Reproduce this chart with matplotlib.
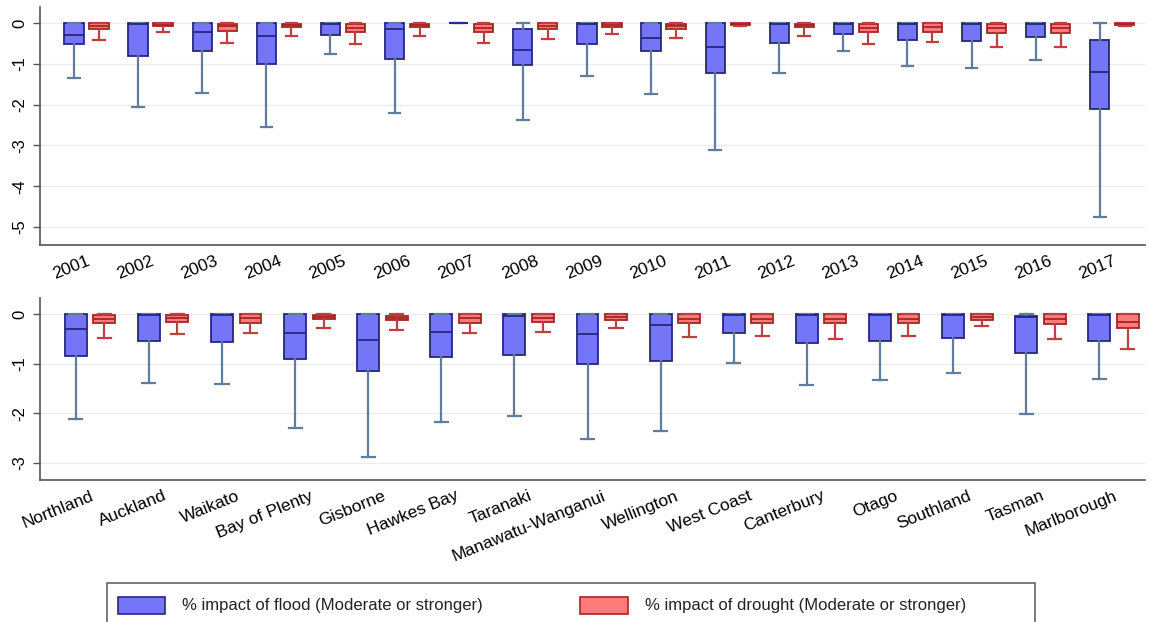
import numpy as np
import matplotlib
matplotlib.use('Agg')
import matplotlib.pyplot as plt
from matplotlib.patches import Rectangle

plt.rcParams['font.family'] = ['Liberation Sans', 'DejaVu Sans']
plt.rcParams['axes.unicode_minus'] = False

# top panel: by year
years = [str(y) for y in range(2001, 2018)]
flood_yr_hi = [0, 0, 0, 0, 0, 0, 0, 0, 0, 0, 0, 0, 0, 0, 0, 0, 0]
flood_yr_q3 = [0, 0, 0, 0, 0, 0, 0, -0.15, 0, 0, 0, 0, 0, 0, 0, 0, -0.42]
flood_yr_med = [-0.29, -0.03, -0.23, -0.31, -0.03, -0.15, 0, -0.66, -0.02, -0.38, -0.58, -0.02, -0.02,
                -0.02, -0.02, -0.02, -1.19]
flood_yr_q1 = [-0.52, -0.82, -0.69, -1.01, -0.29, -0.88, 0, -1.03, -0.51, -0.70, -1.23, -0.50, -0.28,
               -0.42, -0.44, -0.35, -2.12]
flood_yr_lo = [-1.34, -2.07, -1.71, -2.56, -0.76, -2.20, 0, -2.39, -1.30, -1.75, -3.11, -1.22, -0.68,
               -1.05, -1.11, -0.92, -4.76]

drought_yr_hi = [0] * 17
drought_yr_q3 = [-0.01, 0, -0.02, -0.02, -0.02, -0.02, -0.02, -0.01, -0.01, -0.02, 0, -0.02, -0.02,
                 -0.01, -0.02, -0.02, -0.01]
drought_yr_med = [-0.07, -0.04, -0.07, -0.05, -0.13, -0.06, -0.13, -0.07, -0.05, -0.07, -0.03, -0.05,
                  -0.13, -0.10, -0.13, -0.13, -0.03]
drought_yr_q1 = [-0.15, -0.08, -0.19, -0.10, -0.23, -0.10, -0.23, -0.16, -0.09, -0.16, -0.05, -0.10,
                 -0.23, -0.23, -0.25, -0.25, -0.06]
drought_yr_lo = [-0.42, -0.23, -0.48, -0.31, -0.52, -0.31, -0.50, -0.39, -0.27, -0.36, -0.07, -0.31,
                 -0.51, -0.46, -0.58, -0.58, -0.08]

# bottom panel: by region
regions = ['Northland', 'Auckland', 'Waikato', 'Bay of Plenty', 'Gisborne', 'Hawkes Bay', 'Taranaki',
           'Manawatu-Wanganui', 'Wellington', 'West Coast', 'Canterbury', 'Otago', 'Southland',
           'Tasman', 'Marlborough']
flood_rg_hi = [0] * 15
flood_rg_q3 = [0, 0, 0, 0, 0, 0, 0, 0, 0, 0, 0, 0, 0, -0.03, 0]
flood_rg_med = [-0.30, -0.02, -0.02, -0.37, -0.52, -0.35, -0.03, -0.40, -0.22, -0.02, -0.02, -0.02,
                -0.02, -0.05, -0.02]
flood_rg_q1 = [-0.84, -0.54, -0.55, -0.91, -1.15, -0.86, -0.82, -1.01, -0.94, -0.38, -0.57, -0.53,
               -0.47, -0.79, -0.53]
flood_rg_lo = [-2.12, -1.38, -1.40, -2.29, -2.88, -2.17, -2.06, -2.53, -2.36, -0.99, -1.43, -1.33,
               -1.19, -2.02, -1.31]

drought_rg_hi = [0] * 15
drought_rg_q3 = [-0.01, -0.01, 0, -0.01, -0.03, 0, 0, 0, 0, 0, 0, 0, 0, 0, 0]
drought_rg_med = [-0.10, -0.08, -0.08, -0.05, -0.07, -0.08, -0.08, -0.05, -0.10, -0.10, -0.10, -0.10,
                  -0.05, -0.10, -0.15]
drought_rg_q1 = [-0.17, -0.15, -0.17, -0.10, -0.11, -0.17, -0.15, -0.11, -0.18, -0.18, -0.18, -0.18,
                 -0.11, -0.20, -0.28]
drought_rg_lo = [-0.47, -0.40, -0.38, -0.27, -0.32, -0.38, -0.35, -0.28, -0.45, -0.44, -0.49, -0.44,
                 -0.24, -0.50, -0.70]

FLOOD_FILL = '#7575f7'
FLOOD_EDGE = '#262680'
FLOOD_WHISK = '#5f7d9c'
DROUGHT_FILL = '#ff7a7a'
DROUGHT_EDGE = '#a52525'
DROUGHT_WHISK = '#c04040'

BOX_W = 0.30
OFFSET = 0.195


def make_stats(lo, q1, med, q3, hi):
    stats = []
    for i in range(len(lo)):
        stats.append({'whislo': lo[i], 'q1': q1[i], 'med': med[i], 'q3': q3[i], 'whishi': hi[i],
                      'fliers': []})
    return stats


def draw_boxes(ax, stats, pos, fill, edge, whisk):
    ax.bxp(stats, positions=pos, widths=BOX_W, capwidths=BOX_W * 0.6, patch_artist=True,
           showfliers=False, manage_ticks=False,
           boxprops=dict(facecolor=fill, edgecolor=edge, linewidth=1.3),
           medianprops=dict(color=edge, linewidth=1.3),
           whiskerprops=dict(color=whisk, linewidth=1.6),
           capprops=dict(color=whisk, linewidth=1.6))


def style_axis(ax, labels, ylim, yticks, xlim):
    ax.set_xlim(*xlim)
    ax.set_ylim(*ylim)
    ax.set_yticks(yticks)
    ax.set_yticklabels([str(t) for t in yticks], rotation=90, va='center', fontsize=12)
    ax.set_xticks(np.arange(1, len(labels) + 1))
    ax.set_xticklabels(labels, rotation=22, ha='right', rotation_mode='anchor', fontsize=12.5)
    ax.tick_params(axis='x', length=0, pad=6)
    ax.tick_params(axis='y', length=5, width=1, color='#555555', pad=4)
    ax.grid(axis='y', color='#ececec', linewidth=1)
    ax.set_axisbelow(True)
    for s in ['top', 'right']:
        ax.spines[s].set_visible(False)
    for s in ['left', 'bottom']:
        ax.spines[s].set_color('#555555')
        ax.spines[s].set_linewidth(1.2)


def main():
    fig = plt.figure(figsize=(11.51, 6.22), dpi=100)

    # top panel
    ax1 = fig.add_axes([40 / 1151, (622 - 245) / 622, 1105 / 1151, 238 / 622])
    pos = np.arange(1, len(years) + 1)
    draw_boxes(ax1, make_stats(flood_yr_lo, flood_yr_q1, flood_yr_med, flood_yr_q3, flood_yr_hi),
               pos - OFFSET, FLOOD_FILL, FLOOD_EDGE, FLOOD_WHISK)
    draw_boxes(ax1, make_stats(drought_yr_lo, drought_yr_q1, drought_yr_med, drought_yr_q3, drought_yr_hi),
               pos + OFFSET, DROUGHT_FILL, DROUGHT_EDGE, DROUGHT_WHISK)
    style_axis(ax1, years, (-5.44, 0.39), [0, -1, -2, -3, -4, -5], (0.275, 17.51))

    # bottom panel
    ax2 = fig.add_axes([40 / 1151, (622 - 480) / 622, 1105 / 1151, 182 / 622])
    pos = np.arange(1, len(regions) + 1)
    draw_boxes(ax2, make_stats(flood_rg_lo, flood_rg_q1, flood_rg_med, flood_rg_q3, flood_rg_hi),
               pos - OFFSET, FLOOD_FILL, FLOOD_EDGE, FLOOD_WHISK)
    draw_boxes(ax2, make_stats(drought_rg_lo, drought_rg_q1, drought_rg_med, drought_rg_q3, drought_rg_hi),
               pos + OFFSET, DROUGHT_FILL, DROUGHT_EDGE, DROUGHT_WHISK)
    style_axis(ax2, regions, (-3.35, 0.33), [0, -1, -2, -3], (0.316, 15.43))

    # legend (frame runs off the bottom of the image)
    fig.add_artist(Rectangle((107 / 1151, -0.06), 928 / 1151, 0.06 + 39 / 622, transform=fig.transFigure,
                             facecolor='white', edgecolor='#666666', linewidth=1.2, clip_on=False))
    fig.add_artist(Rectangle((118 / 1151, 8 / 622), 47 / 1151, 17 / 622, transform=fig.transFigure,
                             facecolor=FLOOD_FILL, edgecolor=FLOOD_EDGE, linewidth=1.2))
    fig.text(182 / 1151, 16.5 / 622, '% impact of flood (Moderate or stronger)', fontsize=12,
             va='center', ha='left', color='#222222')
    fig.add_artist(Rectangle((580 / 1151, 8 / 622), 48 / 1151, 17 / 622, transform=fig.transFigure,
                             facecolor=DROUGHT_FILL, edgecolor=DROUGHT_EDGE, linewidth=1.2))
    fig.text(645 / 1151, 16.5 / 622, '% impact of drought (Moderate or stronger)', fontsize=12,
             va='center', ha='left', color='#222222')

    fig.savefig('out.png', dpi=100, facecolor='white')


if __name__ == '__main__':
    main()
